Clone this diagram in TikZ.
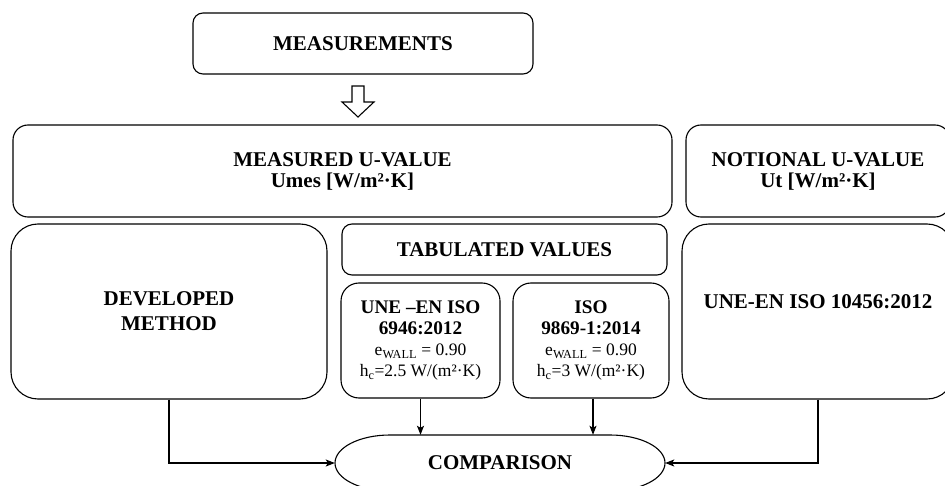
\documentclass[tikz,border=0pt]{standalone}
\usepackage{fontspec}
\setmainfont{Liberation Serif}
\usetikzlibrary{arrows.meta}
\newcommand{\plainline}[1]{{\mdseries\fontsize{17.5}{21}\selectfont #1}}
\begin{document}
\begin{tikzpicture}[x=1pt,y=-1pt,
  box/.style={draw=black, line width=1.1pt, rounded corners=#1, inner sep=0pt},
  box/.default=10pt,
  bigtext/.style={font=\bfseries\fontsize{21}{21}\selectfont, align=center},
  smalltext/.style={font=\bfseries\fontsize{19.25}{21}\selectfont, align=center},
  link/.style={draw=black, line width=1.1pt, -{Stealth[length=9pt,width=7pt,inset=2pt]}},
  outline/.style={draw=black, line width=1.1pt}]
\clip (0,0) rectangle (945,486);

% top box and hollow arrow
\node[box=10pt, bigtext, minimum width=340pt, minimum height=61pt] (meas) at (363,43.5) {MEASUREMENTS};
\draw[outline, line join=miter] (352,86) -- (352,102) -- (342,102) -- (358,117) -- (374,102) -- (364,102) -- (364,86) -- cycle;

% U-value row
\node[box=15pt, bigtext, minimum width=659pt, minimum height=92pt] (measu) at (342.5,171) {MEASURED U-VALUE\\Umes [W/m²·K]};
\node[box=15pt, bigtext, minimum width=264pt, minimum height=92pt] (notional) at (818,171) {NOTIONAL U-VALUE\\Ut [W/m²·K]};

% methods row
\node[box=27pt, minimum width=316pt, minimum height=175pt] (devel) at (169,311.5) {};
\node[bigtext, font=\bfseries\fontsize{21}{25}\selectfont] (develtext) at (devel.center) {DEVELOPED\\METHOD};

\node[box=10pt, bigtext, minimum width=325pt, minimum height=51pt] (tab) at (504.5,249.5) {TABULATED VALUES};

\node[box=18pt, smalltext, minimum width=159pt, minimum height=115pt] (une) at (420.5,340.5)
  {UNE –EN ISO\\6946:2012\\\plainline{e\textsubscript{WALL} = 0.90}\\\plainline{h\textsubscript{c}=2.5 W/(m²·K)}};
\node[box=18pt, smalltext, minimum width=156pt, minimum height=115pt] (iso) at (591,340.5)
  {ISO\\9869-1:2014\\\plainline{e\textsubscript{WALL} = 0.90}\\\plainline{h\textsubscript{c}=3 W/(m²·K)}};

\node[box=27pt, minimum width=272pt, minimum height=175pt] (std) at (818,311.5) {};
\node[bigtext, yshift=10pt] (stdtext) at (std.center) {UNE-EN ISO 10456:2012};

% comparison terminal
\node[bigtext, minimum width=330pt, minimum height=56pt, inner sep=0pt] (comp) at (500,463) {COMPARISON};
\draw[outline] (390,435) -- (610,435)
  .. controls (640.4,435) and (665,447.5) .. (665,463)
  .. controls (665,478.5) and (640.4,491) .. (610,491)
  -- (390,491)
  .. controls (359.6,491) and (335,478.5) .. (335,463)
  .. controls (335,447.5) and (359.6,435) .. (390,435) -- cycle;

% connectors
\draw[link] (devel.south) |- (comp.west);
\draw[link] (std.south) |- (comp.east);
\draw[link] (une.south) -- (une.south |- comp.north);
\draw[link] ([xshift=2pt]iso.south) -- ([xshift=2pt]iso.south |- comp.north);
\end{tikzpicture}
\end{document}
